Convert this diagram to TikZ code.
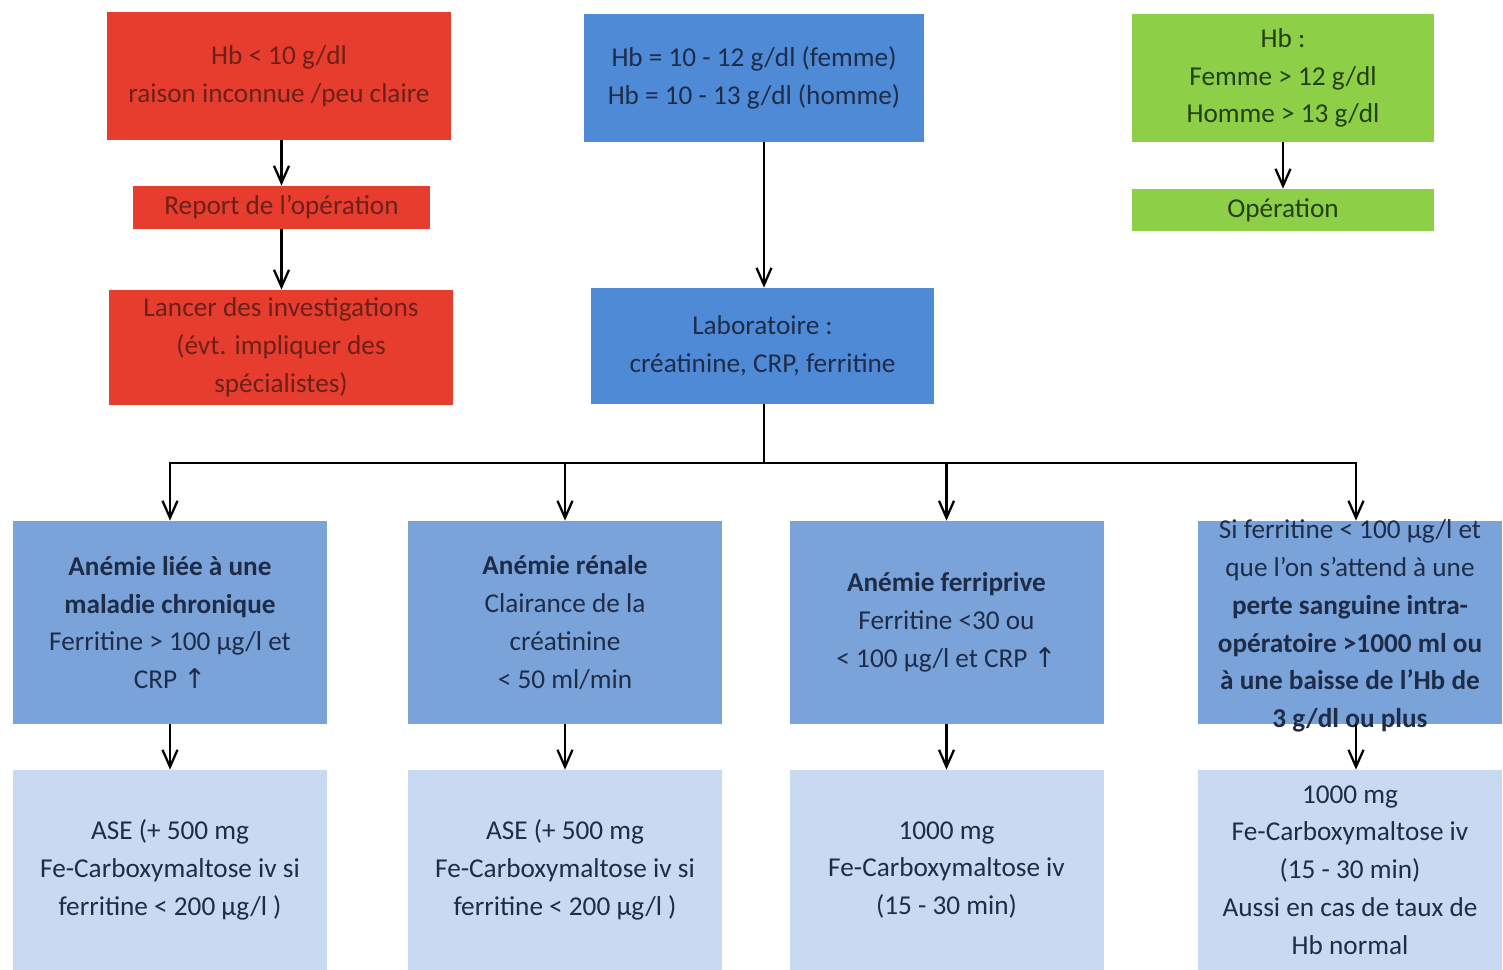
\documentclass[tikz,border=0pt]{standalone}
\usepackage{fontspec}
\setmainfont{Carlito}
\newfontfamily\symfont{DejaVu Sans}
\usepackage{xcolor}
\usetikzlibrary{arrows.meta}
\definecolor{redfill}{HTML}{E63D2E}
\definecolor{redtext}{HTML}{6E2018}
\definecolor{bluefill}{HTML}{4F8AD6}
\definecolor{midfill}{HTML}{7AA3DA}
\definecolor{lowfill}{HTML}{C7DAF1}
\definecolor{bluetext}{HTML}{1E2C48}
\definecolor{greenfill}{HTML}{8DCF47}
\definecolor{greentext}{HTML}{243F10}
\newcommand{\up}{{\symfont\char"2191}}

\begin{document}
\begin{tikzpicture}[x=0.2mm,y=-0.2mm]
            \tikzstyle{box} = [rectangle, inner sep=0pt, align=center, font=\fontsize{15.5}{21.5}\selectfont]
            \tikzstyle{redbox} = [box, fill=redfill, text=redtext]
            \tikzstyle{topbox} = [box, fill=bluefill, text=bluetext]
            \tikzstyle{greenbox} = [box, fill=greenfill, text=greentext]
            \tikzstyle{midbox} = [box, fill=midfill, text=bluetext, minimum width=62.8mm, minimum height=40.6mm]
            \tikzstyle{lowbox} = [box, fill=lowfill, text=bluetext, minimum width=62.8mm, minimum height=40mm]
            \tikzstyle{link} = [line width=1.3pt, -{Straight Barb[length=3.4mm, width=3mm]}]
            \useasboundingbox (0, 0) rectangle (1503, 970);
            \node[redbox, minimum width=68.8mm, minimum height=25.6mm] (r1) at (279, 76) {Hb < 10 g/dl\\raison inconnue /peu claire};
            \node[redbox, minimum width=59.4mm, minimum height=8.6mm] (r2) at (281.5, 207.5) {Report de l'opération};
            \node[redbox, minimum width=68.8mm, minimum height=23mm] (r3) at (281, 347.5) {Lancer des investigations\\(évt. impliquer des\\spécialistes)};
            \node[topbox, minimum width=68mm, minimum height=25.6mm] (hb) at (754, 78) {Hb = 10 - 12 g/dl (femme)\\Hb = 10 - 13 g/dl (homme)};
            \node[topbox, minimum width=68.6mm, minimum height=23.2mm] (lab) at (762.5, 346) {Laboratoire :\\créatinine, CRP, ferritine};
            \node[greenbox, minimum width=60.4mm, minimum height=25.6mm] (g1) at (1283, 78) {Hb :\\Femme > 12 g/dl\\Homme > 13 g/dl};
            \node[greenbox, minimum width=60.4mm, minimum height=8.4mm] (g2) at (1283, 210) {Opération};
            \node[midbox] (m1) at (170, 622.5) {\textbf{Anémie liée à une}\\\textbf{maladie chronique}\\Ferritine > 100 µg/l et\\CRP \up};
            \node[midbox] (m2) at (565, 622.5) {\textbf{Anémie rénale}\\Clairance de la\\créatinine\\< 50 ml/min};
            \node[midbox] (m3) at (946.5, 622.5) {\textbf{Anémie ferriprive}\\Ferritine <30 ou\\< 100 µg/l et CRP \up};
            \node[midbox, minimum width=60.8mm] (m4) at (1350, 622.5) {};
            \node[box, text=bluetext] (m4text) at (1350, 626) {Si ferritine < 100 µg/l et\\que l'on s'attend à une\\\textbf{perte sanguine intra-}\\\textbf{opératoire >1000 ml ou}\\\textbf{à une baisse de l'Hb de}\\\textbf{3 g/dl ou plus}};
            \node[lowbox] (t1) at (170, 870) {ASE (+ 500 mg\\Fe-Carboxymaltose iv si\\ferritine < 200 µg/l )};
            \node[lowbox] (t2) at (565, 870) {ASE (+ 500 mg\\Fe-Carboxymaltose iv si\\ferritine < 200 µg/l )};
            \node[lowbox] (t3) at (946.5, 870) {1000 mg\\Fe-Carboxymaltose iv\\(15 - 30 min)};
            \node[lowbox, minimum width=60.8mm] (t4) at (1350, 870) {1000 mg\\Fe-Carboxymaltose iv\\(15 - 30 min)\\Aussi en cas de taux de\\Hb normal};
            \coordinate (split) at (764, 463);
            \coordinate (c4) at (1356, 0);
            \draw[link] (r2.north |- r1.south) -- (r2.north);
            \draw[link] (r2.south) -- (r2.south |- r3.north);
            \draw[link] (g2.north |- g1.south) -- (g2.north);
            \draw[link] (split |- hb.south) -- (split |- lab.north);
            \draw[line width=1.3pt] (split |- lab.south) -- (split);
            \draw[link] (split) -| (m1.north);
            \draw[link] (split) -| (m2.north);
            \draw[link] (split) -| (m3.north);
            \draw[link] (split) -| (c4 |- m4.north);
            \draw[link] (m1) -- (t1);
            \draw[link] (m2) -- (t2);
            \draw[link] (m3) -- (t3);
            \draw[link] (c4 |- m4.south) -- (c4 |- t4.north);
        \end{tikzpicture}
\end{document}
